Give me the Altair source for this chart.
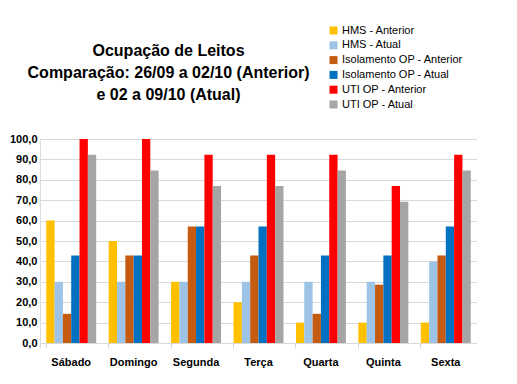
import altair as alt
import pandas as pd

days = ["Sábado", "Domingo", "Segunda", "Terça", "Quarta", "Quinta", "Sexta"]
series = ["HMS - Anterior", "HMS - Atual", "Isolamento OP - Anterior",
          "Isolamento OP - Atual", "UTI OP - Anterior", "UTI OP - Atual"]
colors = ["#FFC000", "#9DC3E6", "#C55A11", "#0070C0", "#FF0000", "#A5A5A5"]

hms_ant = [60.0, 50.0, 30.0, 20.0, 10.0, 10.0, 10.0]
hms_atu = [30.0, 30.0, 30.0, 30.0, 30.0, 30.0, 40.0]
iso_ant = [14.3, 42.9, 57.1, 42.9, 14.3, 28.6, 42.9]
iso_atu = [42.9, 42.9, 57.1, 57.1, 42.9, 42.9, 57.1]
uti_ant = [100.0, 100.0, 92.3, 92.3, 92.3, 76.9, 92.3]
uti_atu = [92.3, 84.6, 76.9, 76.9, 84.6, 69.2, 84.6]

vals = [hms_ant, hms_atu, iso_ant, iso_atu, uti_ant, uti_atu]
rows = []
for s, v in zip(series, vals):
    for d, x in zip(days, v):
        rows.append({"dia": d, "serie": s, "valor": x})
df = pd.DataFrame(rows)

FONT = "Liberation Sans"

chart = alt.Chart(df).mark_bar().encode(
    x=alt.X("dia:N", sort=days, title=None,
            scale=alt.Scale(paddingInner=0.2, paddingOuter=0.1),
            axis=alt.Axis(labelAngle=0, labelFontWeight="bold", labelFontSize=11,
                          labelColor="#000000", labelFont=FONT, labelPadding=8,
                          domainColor="#D9D9D9", tickColor="#D9D9D9", tickSize=5,
                          bandPosition=0, tickExtra=True, grid=False)),
    xOffset=alt.XOffset("serie:N", sort=series, scale=alt.Scale(paddingInner=0, paddingOuter=0)),
    y=alt.Y("valor:Q", title=None,
            scale=alt.Scale(domain=[0, 100], nice=False),
            axis=alt.Axis(values=list(range(0, 101, 10)),
                          labelExpr="replace(format(datum.value, '.1f'), '.', ',')",
                          labelFontWeight="bold", labelFontSize=11, labelColor="#000000",
                          labelFont=FONT, labelPadding=3, domain=False, ticks=False,
                          gridColor="#D9D9D9")),
    color=alt.Color("serie:N", sort=series,
                    scale=alt.Scale(domain=series, range=colors),
                    legend=alt.Legend(title=None, orient="none", legendX=288, legendY=-114,
                                      symbolType="square", symbolSize=64, symbolStrokeWidth=0,
                                      labelFontSize=11, labelFont=FONT, labelColor="#000000",
                                      rowPadding=2.8, padding=0, labelOffset=3)),
).properties(
    width=437, height=204,
    title=alt.TitleParams(
        text=["Ocupação de Leitos", "Comparação: 26/09 a 02/10 (Anterior)", "e 02 a 09/10 (Atual)"],
        font=FONT, fontSize=16, fontWeight="bold", color="#000000",
        anchor="middle", dx=-90, offset=0, dy=78, lineHeight=22),
    padding={"left": 32, "top": 131, "right": 0, "bottom": 30},
    autosize=alt.AutoSizeParams(type="none"),
).configure_view(stroke=None).configure(background="#FFFFFF")

chart.save("out.html", embed_options={"renderer": "svg", "actions": False})
